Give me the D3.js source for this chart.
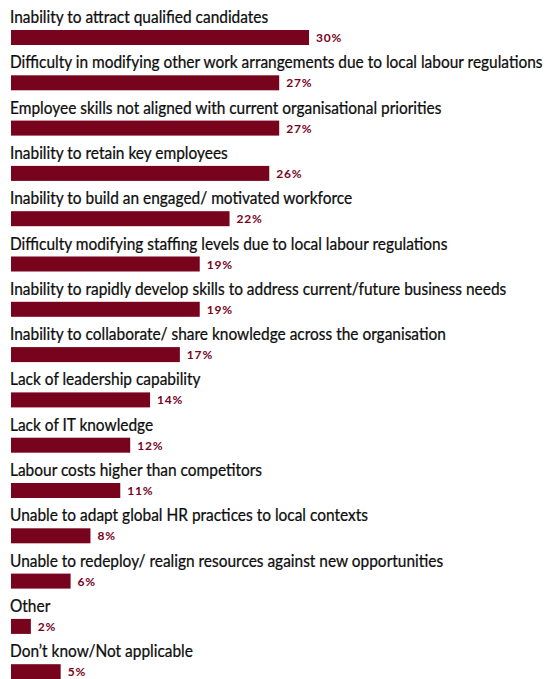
<!DOCTYPE html>
<html>
<head>
<meta charset="utf-8">
<script src="https://cdn.jsdelivr.net/npm/d3@7"></script>
<style>
  html, body { margin: 0; padding: 0; background: #fff; }
  svg { display: block; }
</style>
</head>
<body>
<svg id="chart" width="547" height="679"></svg>
<script>
// Survey responses: workforce challenges, share of respondents (%)
const categories = [
  "Inability to attract qualified candidates",
  "Difficulty in modifying other work arrangements due to local labour regulations",
  "Employee skills not aligned with current organisational priorities",
  "Inability to retain key employees",
  "Inability to build an engaged/ motivated workforce",
  "Difficulty modifying staffing levels due to local labour regulations",
  "Inability to rapidly develop skills to address current/future business needs",
  "Inability to collaborate/ share knowledge across the organisation",
  "Lack of leadership capability",
  "Lack of IT knowledge",
  "Labour costs higher than competitors",
  "Unable to adapt global HR practices to local contexts",
  "Unable to redeploy/ realign resources against new opportunities",
  "Other",
  "Don\u2019t know/Not applicable"
];
const values = [30, 27, 27, 26, 22, 19, 19, 17, 14, 12, 11, 8, 6, 2, 5];
const valueLabels = values.map(v => v + "%");

const svg = d3.select("#chart");
const barColor = "#78031c";
const barH = 15;
const rowStep = 45.3;
const firstBarTop = 30;

const x = d3.scaleLinear().domain([0, 30]).range([11, 309]);
const y = d3.scaleBand()
  .domain(categories)
  .range([firstBarTop, firstBarTop + rowStep * categories.length])
  .paddingInner(0).paddingOuter(0);

const rows = svg.selectAll("g.row")
  .data(categories.map((c, i) => ({ c, v: values[i], lab: valueLabels[i] })))
  .join("g")
  .attr("class", "row");

// Category labels sit above each bar, in a condensed face
const labels = rows.append("text")
  .attr("font-family", "Lato, 'Open Sans', sans-serif")
  .attr("font-size", 17)
  .attr("fill", "#0d0d0d")
  .attr("stroke", "#0d0d0d")
  .attr("stroke-width", 0.25)
  .text(d => d.c);

let maxW = 0;
labels.each(function () { maxW = Math.max(maxW, this.getComputedTextLength()); });
const squeeze = 533 / maxW;
labels.attr("transform", d => `translate(${x(0) - 1},${y(d.c) - 7}) scale(${squeeze},1)`);

rows.append("rect")
  .attr("x", x(0))
  .attr("y", d => y(d.c))
  .attr("width", d => x(d.v) - x(0))
  .attr("height", barH)
  .attr("fill", barColor);

rows.append("text")
  .attr("x", d => x(d.v) + 7)
  .attr("y", d => y(d.c) + barH / 2 + 4.5)
  .attr("font-family", "Lato, 'Open Sans', sans-serif")
  .attr("font-size", 12)
  .attr("font-weight", "bold")
  .attr("letter-spacing", "0.8px")
  .attr("fill", barColor)
  .text(d => d.lab);
</script>
</body>
</html>
